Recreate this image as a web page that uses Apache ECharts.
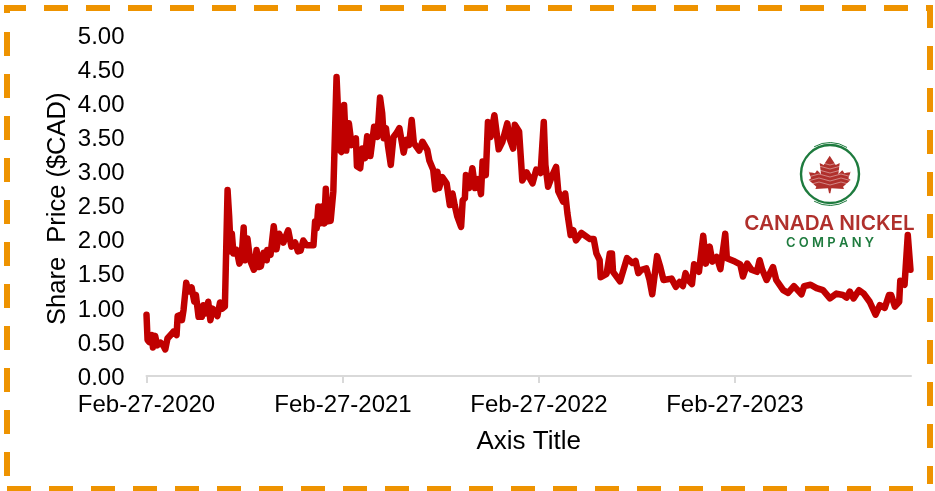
<!DOCTYPE html>
<html>
<head>
<meta charset="utf-8">
<style>html,body{margin:0;padding:0;background:#fff}#chart{width:935px;height:491px}</style>
<script src="https://cdn.jsdelivr.net/npm/echarts@6/dist/echarts.min.js"></script>
</head>
<body>
<div id="chart"></div>
<script>
// days since Feb-27-2020
var dayOffsets = [0,2,5,10,12,16,20,26,31,35,39,47,50,56,58,64,66,69,74,78,84,89,92,97,103,106,110,115,119,123,128,132,137,141,146,148,
151,154,157,159,162,168,173,177,181,183,188,193,200,205,209,213,218,224,225,231,237,242,247,255,264,270,277,282,287,292,298,311,314,317,320,323,327,331,334,337,343,348,
354,357,360,363,368,372,374,377,382,390,392,398,402,407,411,417,424,430,435,439,442,446,450,455,460,466,471,
473,479,484,489,494,498,508,514,523,527,534,538,542,545,551,559,565,570,574,579,586,589,593,595,601,607,612,618,623,626,632,636,641,648,656,663,672,677,683,686,694,700,708,719,726,734,740,743,748,756,763,767,776,780,784,790,795,800,810,826,833,838,844,846,857,863,867,869,882,895,905,911,916,922,931,937,942,951,
957,963,978,986,993,999,1004,1009,1016,1020,1029,1037,1042,1049,1054,1062,1069,1078,1081,1096,1106,1111,1119,1127,1137,1142,1147,1155,1167,1173,1186,1195,1206,1220,1225,1237,1248,1260,1273,1285,1297,1304,1310,1317,1327,1336,1347,1358,1366,1375,1383,1387,1394,1402,1404,1412,1418,1423];
var prices = [0.90,0.53,0.50,0.60,0.42,0.59,0.45,0.49,0.45,0.39,0.55,0.62,0.65,0.60,0.88,0.90,0.82,0.97,1.37,1.24,1.30,1.09,1.19,0.87,0.87,1.04,0.92,1.09,0.82,0.99,0.94,0.88,1.08,0.99,1.02,1.03,
2.73,2.34,1.83,2.09,1.80,1.85,1.65,1.73,2.18,1.70,2.02,1.70,1.56,1.85,1.60,1.61,1.81,1.70,1.85,1.78,2.20,1.86,2.09,1.96,2.14,1.90,1.96,1.83,1.84,1.99,1.92,1.92,2.27,2.17,2.49,2.24,2.49,2.24,2.75,2.27,2.28,2.71,
4.39,4.37,3.32,3.29,3.98,3.31,3.32,3.71,3.39,3.49,3.08,3.05,3.34,3.20,3.52,3.23,3.66,3.51,4.09,3.86,3.49,3.64,3.37,3.10,3.51,3.57,3.64,
3.66,3.28,3.47,3.39,3.76,3.42,3.31,3.44,3.32,3.16,3.03,2.74,3.00,2.76,2.92,2.83,2.51,2.68,2.51,2.34,2.19,2.58,2.61,2.95,2.76,3.05,2.76,2.89,2.67,3.15,2.95,3.73,3.51,3.83,3.33,3.44,3.71,3.47,3.34,3.69,3.59,2.87,2.99,2.83,3.03,2.98,3.73,3.10,2.78,2.95,3.07,2.71,2.56,2.68,2.39,2.07,2.14,1.99,2.10,2.01,2.01,1.80,1.70,1.45,1.50,1.80,1.80,1.53,1.39,1.73,1.66,1.69,1.51,1.56,1.58,1.41,1.20,1.76,
1.60,1.41,1.43,1.31,1.38,1.32,1.51,1.41,1.35,1.64,1.53,2.06,1.65,1.90,1.68,1.75,1.57,2.09,1.73,1.68,1.64,1.46,1.65,1.56,1.53,1.70,1.56,1.41,1.60,1.41,1.26,1.22,1.32,1.20,1.32,1.34,1.29,1.26,1.14,1.21,1.19,1.15,1.24,1.14,1.26,1.21,1.09,0.90,1.04,1.00,1.19,1.19,1.02,1.09,1.40,1.34,2.07,1.56];
var tickDays = [0,366,731,1096];
var tickLabels = ['Feb-27-2020','Feb-27-2021','Feb-27-2022','Feb-27-2023'];
var lastDay = 1424;

var points = dayOffsets.map(function(d,i){ return [d, prices[i]]; });

var font = '"Liberation Sans", Arial, sans-serif';
var orange = '#EE9300';
var green = '#1E7B3E';
var red = '#B0302C';

function dashLine(pts){
    return {type:'polyline',shape:{points:pts},silent:true,
        style:{stroke:orange,lineWidth:6,fill:null,lineDash:[24,18]}};
}

// logo leaf outline, right half, mirrored around the stem
var leafHalf = [[0,62],[18,90],[30,84],[26,118],[38,105],[44,115],[63,110],[56,130],[63,135],[40,155],[43,162],[5,160],[2,175]];
var leafPts = [];
leafHalf.forEach(function(p){ leafPts.push([829.7+p[0]/3,135+p[1]/3]); });
leafHalf.slice().reverse().forEach(function(p){ leafPts.push([829.7-p[0]/3,135+p[1]/3]); });

var logo = [
    {type:'circle',shape:{cx:830,cy:174,r:29},style:{fill:null,stroke:green,lineWidth:2.4}},
    {type:'arc',shape:{cx:830,cy:174,r:31.5,startAngle:-2.1,endAngle:-1.0},style:{fill:null,stroke:green,lineWidth:1}},
    {type:'arc',shape:{cx:830,cy:174,r:31.5,startAngle:1.0,endAngle:2.1},style:{fill:null,stroke:green,lineWidth:1}},
    {type:'polygon',shape:{points:leafPts},style:{fill:red}}
];
[163,167,171,175,179,183].forEach(function(y){
    logo.push({type:'polyline',shape:{points:[[808,y+2],[819,y-1],[830,y+2],[841,y-1],[852,y+2]]},
        style:{fill:null,stroke:'#fff',lineWidth:0.6,opacity:0.7}});
});
logo.push({type:'text',x:829.5,y:224,style:{text:'CANADA NICKEL',fill:red,font:'600 20.7px Inter, sans-serif',align:'center',verticalAlign:'middle'}});
logo.push({type:'text',x:830,y:243,style:{text:'C O M P A N Y',fill:green,font:'600 13px Inter, sans-serif',align:'center',verticalAlign:'middle'}});

var option = {
    animation:false,
    backgroundColor:'#fff',
    grid:{left:146.5,right:24,top:35.5,bottom:115},
    xAxis:{
        type:'value',
        min:0,
        max:lastDay,
        name:'Axis Title',
        nameLocation:'middle',
        nameGap:53,
        nameTextStyle:{fontFamily:font,fontSize:26,color:'#000'},
        splitLine:{show:false},
        axisLine:{lineStyle:{color:'#D9D9D9',width:2}},
        axisTick:{show:true,length:7,customValues:tickDays,lineStyle:{color:'#D9D9D9',width:2}},
        axisLabel:{
            customValues:tickDays,
            margin:17,
            fontFamily:font,fontSize:24,color:'#000',
            hideOverlap:false,
            formatter:function(v){ return tickLabels[tickDays.indexOf(v)]; }
        }
    },
    yAxis:{
        type:'value',
        min:0,max:5,interval:0.5,
        name:'Share  Price ($CAD)',
        nameLocation:'middle',
        nameGap:76,
        nameMoveOverlap:false,
        nameTextStyle:{fontFamily:font,fontSize:25.5,color:'#000',padding:[0,6,0,0]},
        splitLine:{show:false},
        axisLine:{show:false},
        axisTick:{show:false},
        axisLabel:{margin:22,fontFamily:font,fontSize:24,color:'#000',verticalAlign:'top',lineHeight:4,
            formatter:function(v){ return v.toFixed(2); }}
    },
    series:[{
        type:'line',
        data:points,
        showSymbol:false,
        lineStyle:{color:'#C00000',width:6.5,cap:'round',join:'round'}
    }],
    graphic:[
        dashLine([[7,13],[7,8],[930,8],[930,484]]),
        dashLine([[7,489],[930,489]]),
        dashLine([[7,32],[7,476]])
    ].concat(logo)
};

var myCharts = echarts.init(document.getElementById('chart'));
myCharts.setOption(option);
</script>
</body>
</html>
